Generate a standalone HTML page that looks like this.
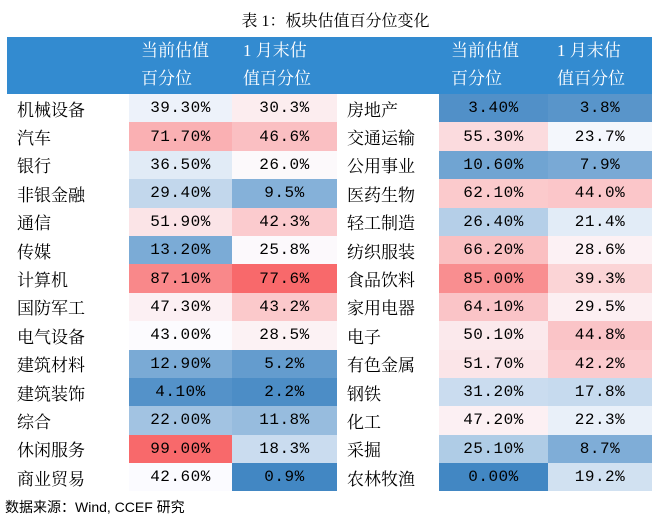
<!DOCTYPE html><html><head><meta charset="utf-8"><style>
body{margin:0;background:#fff;width:657px;height:523px;position:relative;overflow:hidden;font-family:"Liberation Serif","Noto Serif CJK SC",serif}
#t{position:absolute;top:8px;left:0;width:657px;text-align:center;font-size:16px;color:#000;padding-left:14px;box-sizing:border-box}
#hd{position:absolute;left:7px;top:37px;width:645px;height:57px;background:#338BD0}
.h{position:absolute;color:#fff;font-size:17px;line-height:28px;top:37px}
table{position:absolute;left:7px;top:94px;border-collapse:collapse}
td{height:28.4px;padding:0;font-size:17px;white-space:nowrap}
td.n{padding-left:10px;text-align:left}
td.v{text-align:center;font-family:"Liberation Mono","Noto Serif CJK SC",monospace;font-size:16px;letter-spacing:0.5px}
#f{position:absolute;left:5px;top:497px;font-size:14px;font-family:"Liberation Sans","Noto Sans CJK SC",sans-serif}
</style></head><body>
<div id="t">表 1：板块估值百分位变化</div>
<div id="hd"></div>
<div class="h" style="left:141px">当前估值<br>百分位</div>
<div class="h" style="left:243px">1 月末估<br>值百分位</div>
<div class="h" style="left:451px">当前估值<br>百分位</div>
<div class="h" style="left:557px">1 月末估<br>值百分位</div>
<table id="tb"><colgroup><col style="width:122px"><col style="width:103px"><col style="width:105px"><col style="width:102px"><col style="width:109px"><col style="width:104px"></colgroup></table>
<div id="f">数据来源：Wind, CCEF 研究</div>
<script>
var d=[["机械设备",39.3,30.3,"房地产",3.4,3.8],["汽车",71.7,46.6,"交通运输",55.3,23.7],["银行",36.5,26.0,"公用事业",10.6,7.9],["非银金融",29.4,9.5,"医药生物",62.1,44.0],["通信",51.9,42.3,"轻工制造",26.4,21.4],["传媒",13.2,25.8,"纺织服装",66.2,28.6],["计算机",87.1,77.6,"食品饮料",85.0,39.3],["国防军工",47.3,43.2,"家用电器",64.1,29.5],["电气设备",43.0,28.5,"电子",50.1,44.8],["建筑材料",12.9,5.2,"有色金属",51.7,42.2],["建筑装饰",4.1,2.2,"钢铁",31.2,17.8],["综合",22.0,11.8,"化工",47.2,22.3],["休闲服务",99.0,18.3,"采掘",25.1,8.7],["商业贸易",42.6,0.9,"农林牧渔",0.0,19.2]];
function stats(i,j){var a=d.map(r=>r[i]).concat(d.map(r=>r[j])).sort((x,y)=>x-y);return[a[0],(a[13]+a[14])/2,a[27]]}
var A=stats(1,4),B=stats(2,5);
function col(v,s){var b=[66,135,195],w=[252,252,255],r=[248,105,107],t,c;
if(v<=s[1]){t=(v-s[0])/(s[1]-s[0]);c=b.map((x,k)=>Math.round(x+(w[k]-x)*t))}
else{t=(v-s[1])/(s[2]-s[1]);c=w.map((x,k)=>Math.round(x+(r[k]-x)*t))}
return"rgb("+c+")"}
var h="";d.forEach(r=>{h+="<tr><td class=n>"+r[0]+"</td>";
h+="<td class=v style='background:"+col(r[1],A)+"'>"+r[1].toFixed(2)+"%</td>";
h+="<td class=v style='background:"+col(r[2],B)+"'>"+r[2].toFixed(1)+"%</td>";
h+="<td class=n>"+r[3]+"</td>";
h+="<td class=v style='background:"+col(r[4],A)+"'>"+r[4].toFixed(2)+"%</td>";
h+="<td class=v style='background:"+col(r[5],B)+"'>"+r[5].toFixed(1)+"%</td></tr>"});
document.getElementById("tb").insertAdjacentHTML("beforeend",h);
</script>
</body></html>
